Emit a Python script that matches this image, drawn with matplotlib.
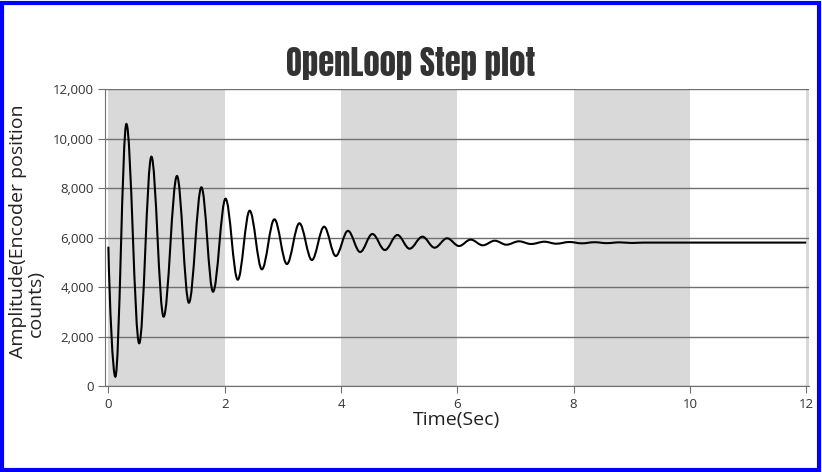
import numpy as np
import matplotlib
matplotlib.use("Agg")
import matplotlib.pyplot as plt
from matplotlib.path import Path
from matplotlib.patches import PathPatch, Rectangle

# peaks / troughs of the step response (time s, counts)
t_ext = [0, 0.12, 0.31, 0.53, 0.74, 0.95, 1.18, 1.385, 1.60, 1.80, 2.015, 2.225,
         2.43, 2.64, 2.855, 3.07, 3.285, 3.50, 3.71, 3.91, 4.12, 4.33, 4.54, 4.755,
         4.97, 5.18, 5.40, 5.61, 5.825, 6.03, 6.23, 6.44, 6.645, 6.845, 7.06, 7.27,
         7.50, 7.70, 7.93, 8.14, 8.36, 8.57, 8.79, 9.00, 9.20, 12.0]
v_ext = [5634, 376, 10597, 1727, 9274, 2803, 8493, 3369, 8036, 3814, 7575, 4300,
         7090, 4720, 6742, 4934, 6580, 5096, 6443, 5258, 6275, 5420, 6148, 5500,
         6108, 5553, 6039, 5594, 5974, 5662, 5920, 5691, 5877, 5715, 5852, 5743,
         5836, 5755, 5824, 5770, 5815, 5778, 5810, 5785, 5800, 5800]

bands = [(0, 2), (4, 6), (8, 10), (12, 14)]
yticks = [0, 2000, 4000, 6000, 8000, 10000, 12000]
xticks = [0, 2, 4, 6, 8, 10, 12]

fig = plt.figure(figsize=(8.22, 4.72), dpi=100)
ax = fig.add_axes([0.1283, 0.1822, 0.8553, 0.6286])

for a, b in bands:
    ax.axvspan(a, b, color="#d9d9d9", lw=0, zorder=0)

# smooth curve through the extrema: flat tangents at each peak/trough
verts = [(t_ext[0], v_ext[0])]
codes = [Path.MOVETO]
for i in range(len(t_ext) - 1):
    t0, v0, t1, v1 = t_ext[i], v_ext[i], t_ext[i + 1], v_ext[i + 1]
    h = 0.36 * (t1 - t0)
    if i == 0:
        c1 = (t0 + h * 0.5, v0 + (v1 - v0) * 0.45)
    else:
        c1 = (t0 + h, v0)
    c2 = (t1 - h, v1)
    verts += [c1, c2, (t1, v1)]
    codes += [Path.CURVE4] * 3
ax.add_patch(PathPatch(Path(verts, codes), fill=False, ec="black", lw=1.5, zorder=3))

ax.set_xlim(-0.05, 12.04)
ax.set_ylim(0, 12000)
ax.set_xticks(xticks)
ax.set_yticks(yticks)
ax.set_yticklabels([f"{v:,}" for v in yticks])
ax.yaxis.grid(True, color="#707070", lw=1)
ax.set_axisbelow(False)
for s in ["top", "right"]:
    ax.spines[s].set_visible(False)
for s in ["left", "bottom"]:
    ax.spines[s].set_color("#707070")
ax.tick_params(colors="#707070", labelcolor="#333333", labelsize=9.5, length=5)
for lbl in ax.get_xticklabels() + ax.get_yticklabels():
    lbl.set_family("Open Sans")

ax.set_xlabel("Time(Sec)", fontsize=14, family="Open Sans", color="#222222", labelpad=0)
# y label wraps onto two lines, second line offset as in the original
fig.text(0.0215, 0.5106, "Amplitude(Encoder position", rotation=90, ha="center",
         va="center", fontsize=14, family="Open Sans", color="#222222")
fig.text(0.0435, 0.356, "counts)", rotation=90, ha="center", va="center",
         fontsize=14, family="Open Sans", color="#222222")

fig.text(0.4995, 0.866, "OpenLoop Step plot", ha="center", va="center",
         fontsize=23.5, family=["Anton", "Oswald", "DejaVu Sans"], color="#333333")

fig.patches.append(Rectangle((0.002, 0.004), 0.994, 0.99, transform=fig.transFigure,
                             fill=False, ec="#0000ff", lw=3))

fig.savefig("out.png", dpi=100)
